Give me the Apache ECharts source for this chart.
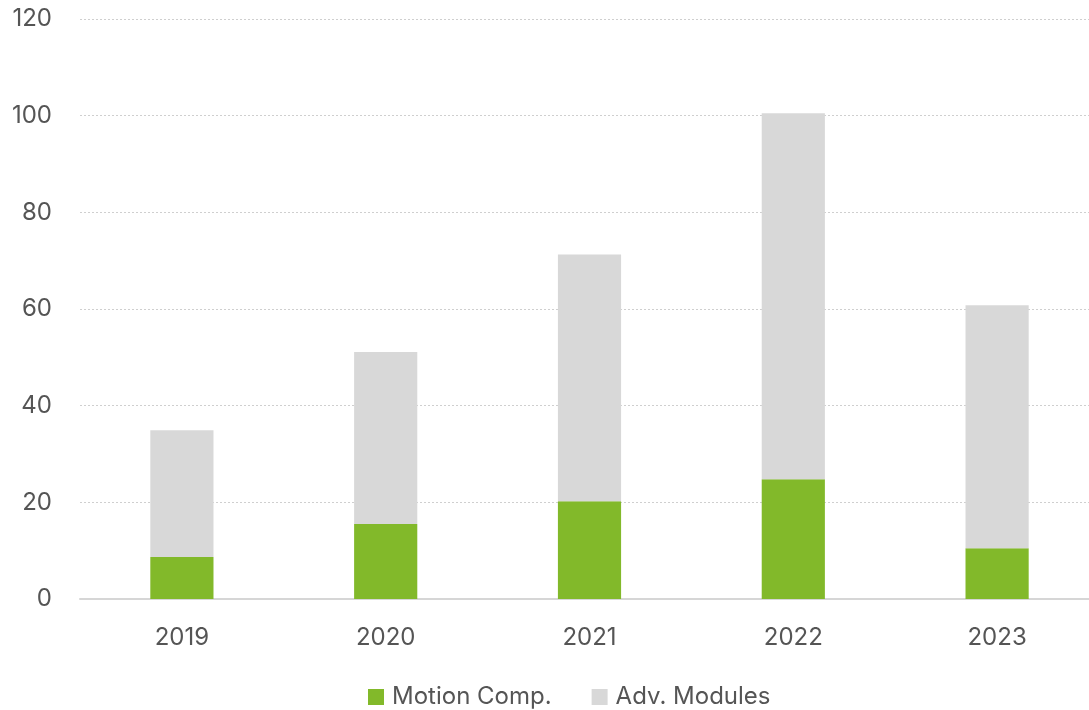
<!DOCTYPE html>
<html>
<head>
<meta charset="utf-8">
<script src="https://cdn.jsdelivr.net/npm/echarts@6/dist/echarts.min.js"></script>
<style>html,body{margin:0;padding:0;background:#fff;overflow:hidden}#c{width:1099px;height:710px}</style>
</head>
<body>
<div id="c"></div>
<script>
const categories = ['2019', '2020', '2021', '2022', '2023'];
const motionComp = [8.7, 15.5, 20.2, 24.8, 10.5];
const advModules = [26.2, 35.6, 51.1, 75.7, 50.3];
const yTicks = [0, 20, 40, 60, 80, 100, 120];

const chart = echarts.init(document.getElementById('c'), null, {renderer: 'canvas'});
const font = 'Inter, "Noto Sans", sans-serif';
chart.setOption({
  animation: false,
  textStyle: {fontFamily: font},
  grid: {left: 80, right: 0, top: 19, bottom: 111, containLabel: false},
  legend: {
    top: 680, left: 363,
    itemWidth: 16, itemHeight: 16, itemGap: 40,
    icon: 'rect',
    textStyle: {fontSize: 24, color: '#555', fontFamily: font, padding: [0, 0, 0, 3]},
    data: ['Motion Comp.', 'Adv. Modules']
  },
  xAxis: {
    type: 'category', data: categories,
    axisLine: {lineStyle: {color: '#d6d6d6', width: 2}},
    axisTick: {show: false},
    axisLabel: {fontSize: 24, color: '#555', margin: 27, fontFamily: font}
  },
  yAxis: {
    type: 'value', min: yTicks[0], max: yTicks[yTicks.length - 1], interval: 20,
    axisLine: {show: false}, axisTick: {show: false},
    axisLabel: {fontSize: 24, color: '#555', margin: 28, fontFamily: font},
    splitLine: {lineStyle: {color: '#cfcfcf', type: [2, 2], width: 1}}
  },
  series: [
    {name: 'Motion Comp.', type: 'bar', stack: 's', data: motionComp, barWidth: '31%',
     itemStyle: {color: '#82b92a'}},
    {name: 'Adv. Modules', type: 'bar', stack: 's', data: advModules, barWidth: '31%',
     itemStyle: {color: '#d8d8d8'}}
  ]
});
</script>
</body>
</html>
